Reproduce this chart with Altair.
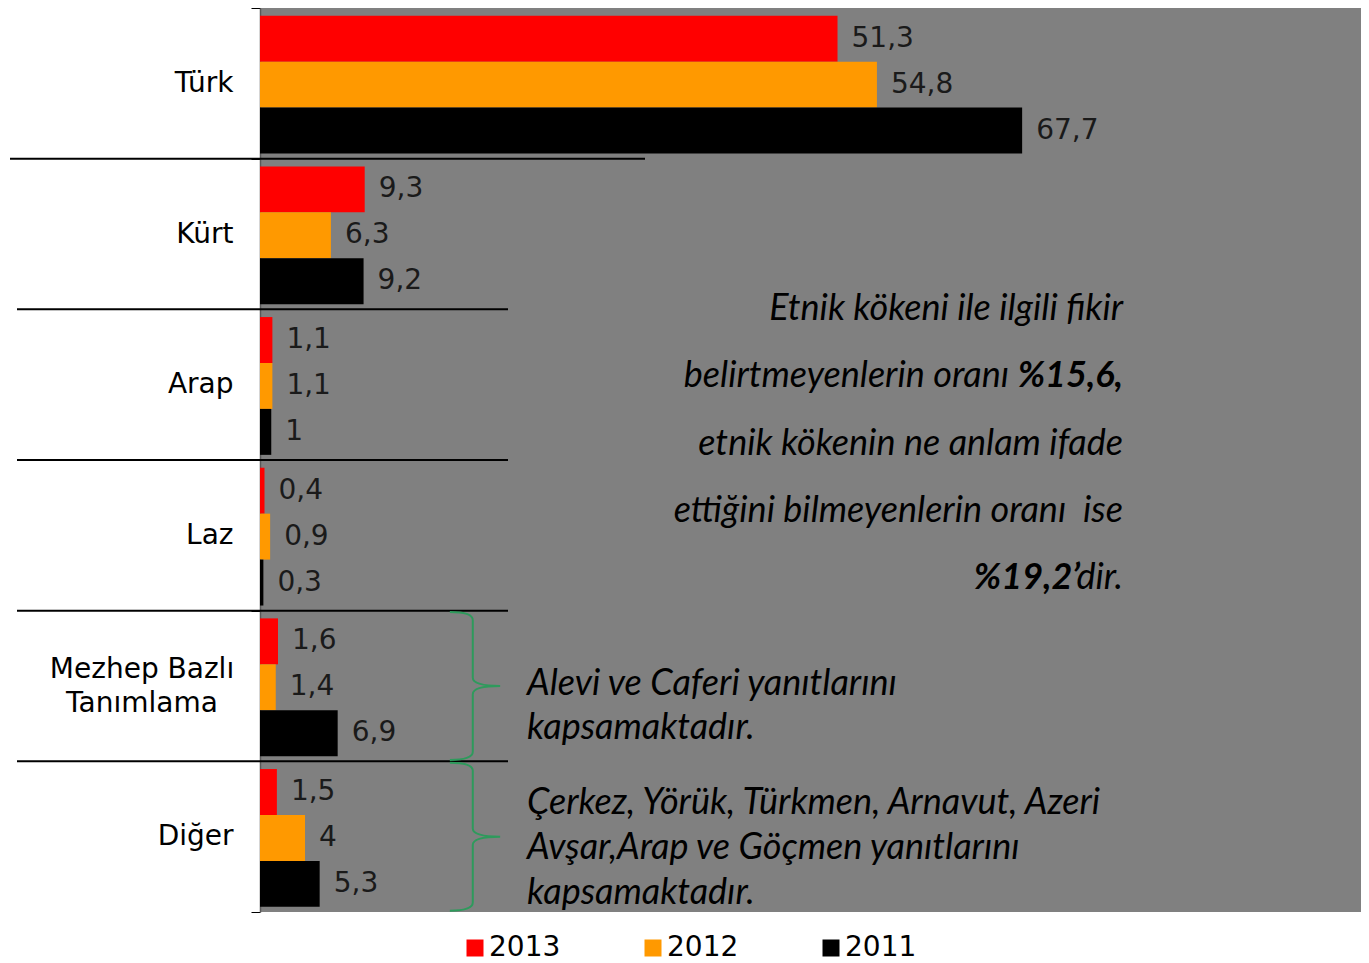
import altair as alt
import pandas as pd

categories = ["Türk", "Kürt", "Arap", "Laz", "Mezhep Bazlı Tanımlama", "Diğer"]
years = ["2013", "2012", "2011"]
v2013 = [51.3, 9.3, 1.1, 0.4, 1.6, 1.5]
v2012 = [54.8, 6.3, 1.1, 0.9, 1.4, 4]
v2011 = [67.7, 9.2, 1, 0.3, 6.9, 5.3]
colors = ["#ff0000", "#ff9900", "#000000"]

two_line_cat = "Mezhep Bazlı Tanımlama"
two_line_label = ["Mezhep Bazlı", "Tanımlama"]

sep_first = ["Kürt"]
sep_rest = ["Arap", "Laz", "Mezhep Bazlı Tanımlama", "Diğer"]
brace_cats = ["Mezhep Bazlı Tanımlama", "Diğer"]

rows = []
for yr, vals in zip(years, [v2013, v2012, v2011]):
    for c, v in zip(categories, vals):
        rows.append({"cat": c, "year": yr, "value": v})
df = pd.DataFrame(rows)

W, H = 1101, 904
ORIG_X, ORIG_Y = 260, 8  # page position of plot origin

yscale = alt.Scale(domain=categories, paddingInner=0, paddingOuter=0)
xscale = alt.Scale(domain=[0, 97.8], nice=False, zero=True)
yoff = alt.YOffset("year:N", sort=years,
                   scale=alt.Scale(domain=years, paddingInner=0, paddingOuter=0.14, align=0.6))

yaxis = alt.Axis(
    title=None, domainColor="#595959", domainWidth=1.5, tickColor="#000000",
    tickSize=9, tickBand="extent", labelFontSize=28, labelFont="DejaVu Sans",
    labelColor="#000000", labelPadding=18, labelLimit=400,
    labelExpr=f"datum.label == '{two_line_cat}' ? '' : datum.label",
)

base = alt.Chart(df)

bars = base.mark_bar().encode(
    x=alt.X("value:Q", scale=xscale, axis=None),
    y=alt.Y("cat:N", scale=yscale, axis=yaxis, sort=categories),
    yOffset=yoff,
    color=alt.Color("year:N", sort=years,
                    scale=alt.Scale(domain=years, range=colors),
                    legend=alt.Legend(title=None, orient="none", direction="horizontal",
                                      columns=3, legendX=201, legendY=926,
                                      symbolType="square", symbolSize=289,
                                      symbolStrokeWidth=0, labelFontSize=28,
                                      labelFont="DejaVu Sans", labelColor="#000000",
                                      labelOffset=0, columnPadding=78, padding=0)),
)

labels = base.transform_calculate(
    lab="replace(toString(datum.value), '.', ',')"
).mark_text(align="left", baseline="middle", dx=14, font="DejaVu Sans",
            fontSize=28, color="#1a1a1a").encode(
    x=alt.X("value:Q", scale=xscale),
    y=alt.Y("cat:N", scale=yscale, sort=categories),
    yOffset=yoff,
    text="lab:N",
)

cat_label2 = alt.Chart(pd.DataFrame({"cat": [two_line_cat],
                                     "lab": ["\n".join(two_line_label)]})).mark_text(
    align="center", baseline="middle", font="DejaVu Sans", fontSize=28,
    color="#000000", lineBreak="\n", lineHeight=34, dy=-16).encode(
    y=alt.Y("cat:N", scale=yscale),
    x=alt.value(142 - ORIG_X),
    text="lab:N",
)

sep1 = alt.Chart(pd.DataFrame({"cat": sep_first})).mark_rule(
    color="#000000", strokeWidth=2).encode(
    y=alt.Y("cat:N", scale=yscale, bandPosition=0),
    x=alt.value(10 - ORIG_X), x2=alt.value(645 - ORIG_X),
)
sep2 = alt.Chart(pd.DataFrame({"cat": sep_rest})).mark_rule(
    color="#000000", strokeWidth=2).encode(
    y=alt.Y("cat:N", scale=yscale, bandPosition=0),
    x=alt.value(17 - ORIG_X), x2=alt.value(508 - ORIG_X),
)

brace_path = ("M-0.34,-1 Q-0.03,-1 -0.03,-0.89 L-0.03,-0.11 Q-0.03,0 0.34,0 "
              "Q-0.03,0 -0.03,0.11 L-0.03,0.89 Q-0.03,1 -0.34,1")
braces = alt.Chart(pd.DataFrame({"cat": brace_cats})).mark_point(
    shape=brace_path, filled=False, stroke="#2e9a5c", strokeWidth=2,
    size=148 * 148, opacity=1).encode(
    y=alt.Y("cat:N", scale=yscale),
    x=alt.value(475 - ORIG_X),
)

ANN_FONT = "Lato"
ANN_SIZE = 36


def txt(text, px, py, align="left", bold=False):
    return alt.Chart(pd.DataFrame({"t": [text]})).mark_text(
        align=align, baseline="middle", font=ANN_FONT, fontSize=ANN_SIZE,
        fontStyle="italic", fontWeight="bold" if bold else "normal",
        color="#000000").encode(
        text="t:N", x=alt.value(px - ORIG_X), y=alt.value(py - ORIG_Y))


ann = [
    txt("Etnik kökeni ile ilgili fikir", 1123, 309, "right"),
    txt("belirtmeyenlerin oranı", 1009, 376, "right"),
    txt("%15,6,", 1123, 376, "right", True),
    txt("etnik kökenin ne anlam ifade", 1123, 444, "right"),
    txt("ettiğini bilmeyenlerin oranı\u00a0\u00a0ise", 1123, 511, "right"),
    txt("%19,2’", 1080, 578, "right", True),
    txt("dir.", 1123, 578, "right"),
    txt("Alevi ve Caferi yanıtlarını", 527, 684),
    txt("kapsamaktadır.", 527, 728),
    txt("Çerkez, Yörük, Türkmen, Arnavut, Azeri", 527, 803),
    txt("Avşar,Arap ve Göçmen yanıtlarını", 527, 848),
    txt("kapsamaktadır.", 527, 893),
]

chart = alt.layer(bars, labels, cat_label2, sep1, sep2, braces, *ann).properties(
    width=W, height=H,
    background="#ffffff",
    autosize=alt.AutoSizeParams(type="none"),
    padding={"left": 252, "top": 0, "right": 0, "bottom": 55},
).configure_view(fill="#808080", stroke=None)

chart.save("out.html", embed_options={"renderer": "svg", "actions": False})
